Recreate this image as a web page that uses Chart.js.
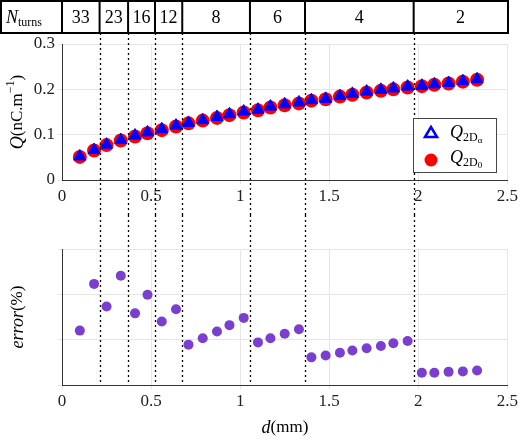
<!DOCTYPE html>
<html><head><meta charset="utf-8">
<script src="https://cdn.jsdelivr.net/npm/chart.js@4/dist/chart.umd.min.js"></script>
<style>
body{margin:0;background:#fff;width:520px;height:442px;overflow:hidden;position:relative}
canvas{position:absolute;left:0}
</style></head><body>
<canvas id="top" style="top:0"></canvas>
<canvas id="bot" style="top:215px"></canvas>
<script>
var d = [0.10,0.18,0.25,0.33,0.41,0.48,0.56,0.64,0.71,0.79,0.87,0.94,1.02,1.10,1.17,1.25,1.33,1.40,1.48,1.56,1.63,1.71,1.79,1.86,1.94,2.02,2.09,2.17,2.25,2.33];
var q0 = [0.051,0.065,0.077,0.087,0.096,0.103,0.110,0.118,0.125,0.131,0.137,0.143,0.149,0.154,0.160,0.165,0.169,0.175,0.178,0.184,0.188,0.193,0.197,0.200,0.204,0.207,0.210,0.213,0.217,0.221];
var errPct = [1.20,2.23,1.73,2.41,1.58,1.99,1.40,1.67,0.89,1.03,1.18,1.32,1.48,0.94,1.03,1.13,1.23,0.61,0.65,0.71,0.76,0.81,0.86,0.92,0.97,0.27,0.27,0.29,0.30,0.32];
var qa = [0.052,0.066,0.078,0.088,0.098,0.105,0.112,0.120,0.126,0.132,0.139,0.145,0.151,0.155,0.162,0.167,0.171,0.176,0.179,0.185,0.190,0.195,0.199,0.202,0.206,0.208,0.211,0.214,0.218,0.222];
var bounds = [0.211,0.371,0.522,0.675,1.055,1.364,1.974];
var turns = ['33','23','16','12','8','6','4','2'];
var xTicks = [0,0.5,1,1.5,2,2.5];

var SERIF = '"Liberation Serif", "DejaVu Serif", serif';
var W = 520;
var LEFT = 62, RIGHT = 508;

function setup(id, h) {
    var c = document.getElementById(id);
    c.width = W; c.height = h;
    c.style.width = W + 'px'; c.style.height = h + 'px';
    return c;
}

function xScaleOpts(h) {
    return {
        type: 'linear', min: 0, max: 2.5,
        afterBuildTicks: function(s) { s.ticks = xTicks.map(function(v) { return { value: v }; }); },
        afterFit: function(s) { s.height = h; },
        ticks: { color: '#222', font: { family: SERIF, size: 17 }, padding: 2,
            callback: function(v) { return String(v); } },
        grid: { color: '#e6e6e6', tickLength: 4, drawTicks: true },
        border: { color: '#333', width: 1 }
    };
}

// draw a run of [font, text, dy] pieces starting at x
function runText(ctx, parts, x, y) {
    parts.forEach(function(p) {
        ctx.font = p[0] + SERIF; ctx.fillText(p[1], x, y + p[2]);
        x += ctx.measureText(p[1]).width;
    });
    return x;
}
function runWidth(ctx, parts) {
    var w = 0;
    parts.forEach(function(p) { ctx.font = p[0] + SERIF; w += ctx.measureText(p[1]).width; });
    return w;
}

// dotted dividers at turn-count boundaries
function dividers(fromY, toY) {
    return {
        id: 'dividers',
        afterDatasetsDraw: function(chart) {
            var ctx = chart.ctx, x = chart.scales.x;
            ctx.save();
            ctx.strokeStyle = '#000'; ctx.lineWidth = 1.3; ctx.setLineDash([2, 3]);
            bounds.forEach(function(b) {
                var px = Math.round(x.getPixelForValue(b)) + 0.5;
                ctx.beginPath(); ctx.moveTo(px, fromY(chart)); ctx.lineTo(px, toY(chart)); ctx.stroke();
            });
            ctx.restore();
        }
    };
}

var topExtras = {
    id: 'topExtras',
    afterDraw: function(chart) {
        var ctx = chart.ctx, x = chart.scales.x;
        ctx.save();
        // N_turns table
        ctx.strokeStyle = '#000'; ctx.lineWidth = 2;
        ctx.strokeRect(1, 1, RIGHT - 1, 32);
        var edges = [0].concat(bounds).concat([2.5]);
        ctx.beginPath(); ctx.moveTo(LEFT, 1); ctx.lineTo(LEFT, 33); ctx.stroke();
        bounds.forEach(function(b) {
            var px = x.getPixelForValue(b);
            ctx.beginPath(); ctx.moveTo(px, 1); ctx.lineTo(px, 33); ctx.stroke();
        });
        ctx.fillStyle = '#000'; ctx.textBaseline = 'middle'; ctx.textAlign = 'center';
        ctx.font = '18px ' + SERIF;
        turns.forEach(function(t, i) {
            var a = x.getPixelForValue(edges[i]), b = x.getPixelForValue(edges[i + 1]);
            ctx.fillText(t, (a + b) / 2, 18);
        });
        ctx.textAlign = 'left';
        runText(ctx, [['italic 18px ', 'N', 0], ['12px ', 'turns', 5]], 6, 18);

        // y title
        ctx.translate(18, 112); ctx.rotate(-Math.PI / 2);
        var parts = [['italic 18px ', 'Q', 0], ['17px ', '(nC.m', 0], ['12px ', '\u22121', -7], ['17px ', ')', 0]];
        runText(ctx, parts, -runWidth(ctx, parts) / 2, 0);
        ctx.setTransform(1, 0, 0, 1, 0, 0);

        // legend
        ctx.fillStyle = '#fff'; ctx.strokeStyle = '#444'; ctx.lineWidth = 1;
        ctx.fillRect(413, 118, 83, 54); ctx.strokeRect(413.5, 118.5, 83, 54);
        ctx.beginPath(); ctx.moveTo(425, 137); ctx.lineTo(431, 127); ctx.lineTo(437, 137); ctx.closePath();
        ctx.strokeStyle = '#0000ff'; ctx.lineWidth = 2.5; ctx.stroke();
        ctx.beginPath(); ctx.arc(431, 160, 6.5, 0, Math.PI * 2); ctx.fillStyle = '#ff0000'; ctx.fill();
        ctx.fillStyle = '#000';
        runText(ctx, [['italic 18px ', 'Q', 0], ['12px ', '2D', 5], ['9px ', '\u03b1', 8]], 450, 133);
        runText(ctx, [['italic 18px ', 'Q', 0], ['12px ', '2D', 5], ['9px ', '0', 8]], 450, 158);
        ctx.restore();
    }
};

new Chart(setup('top', 215), {
    type: 'scatter',
    data: { datasets: [
        { label: 'Q2Da', data: d.map(function(v, i) { return { x: v, y: qa[i] }; }),
          pointStyle: 'triangle', pointRadius: 7, backgroundColor: '#0000ff', borderColor: '#0000ff', borderWidth: 1 },
        { label: 'Q2D0', data: d.map(function(v, i) { return { x: v, y: q0[i] }; }),
          pointStyle: 'circle', pointRadius: 7, backgroundColor: '#ff0000', borderColor: '#ff0000', borderWidth: 0 }
    ] },
    options: {
        responsive: false, animation: false, devicePixelRatio: 1,
        layout: { padding: { top: 44, right: W - RIGHT, left: 0, bottom: 0 } },
        plugins: { legend: { display: false }, tooltip: { enabled: false } },
        scales: {
            x: xScaleOpts(35),
            y: { min: 0, max: 0.3,
                afterFit: function(s) { s.width = LEFT; },
                ticks: { stepSize: 0.1, color: '#222', font: { family: SERIF, size: 17 }, padding: 3,
                    callback: function(v) { var r = Math.round(v * 10) / 10; return r === 0 ? '0' : String(r); } },
                grid: { color: '#e6e6e6', tickLength: 4 },
                border: { color: '#333' } }
        }
    },
    plugins: [dividers(function() { return 33; }, function(c) { return c.height; }), topExtras]
});

var botExtras = {
    id: 'botExtras',
    afterDraw: function(chart) {
        var ctx = chart.ctx;
        ctx.save();
        ctx.fillStyle = '#000'; ctx.textBaseline = 'middle'; ctx.textAlign = 'left';
        ctx.translate(18, 102); ctx.rotate(-Math.PI / 2);
        var yt = [['italic 18px ', 'error', 0], ['17px ', '(%)', 0]];
        runText(ctx, yt, -runWidth(ctx, yt) / 2, 0);
        ctx.setTransform(1, 0, 0, 1, 0, 0);
        var xt = [['italic 18px ', 'd', 0], ['17px ', '(mm)', 0]];
        runText(ctx, xt, (LEFT + RIGHT) / 2 - runWidth(ctx, xt) / 2, 213);
        ctx.restore();
    }
};

new Chart(setup('bot', 227), {
    type: 'scatter',
    data: { datasets: [
        { label: 'error', data: d.map(function(v, i) { return { x: v, y: errPct[i] }; }),
          pointStyle: 'circle', pointRadius: 5, backgroundColor: '#7b3fd0', borderWidth: 0 }
    ] },
    options: {
        responsive: false, animation: false, devicePixelRatio: 1,
        layout: { padding: { top: 34, right: W - RIGHT, left: 0, bottom: 0 } },
        plugins: { legend: { display: false }, tooltip: { enabled: false } },
        scales: {
            x: xScaleOpts(57),
            y: { min: 0, max: 3,
                afterFit: function(s) { s.width = LEFT; },
                ticks: { display: false, stepSize: 1 },
                grid: { color: '#e6e6e6', tickLength: 4 },
                border: { color: '#333' } }
        }
    },
    plugins: [dividers(function() { return 0; }, function(c) { return c.chartArea.bottom; }), botExtras]
});
</script>
</body></html>
